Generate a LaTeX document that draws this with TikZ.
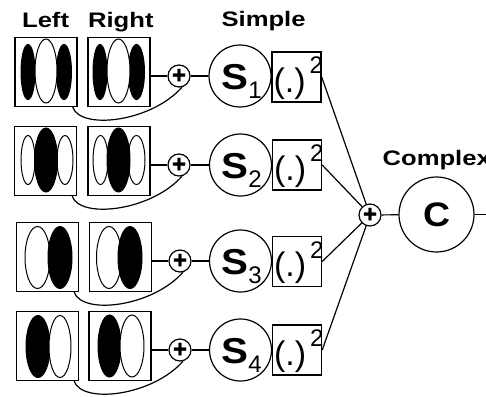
\documentclass[tikz,border=0pt]{standalone}
\usepackage{graphicx}
\usepackage{fontspec}
\setmainfont{Liberation Sans}
% wide bold heading text
\newcommand{\wide}[1]{\scalebox{1.22}[1]{#1}}
% simple-unit label S with a subscript index
\newcommand{\sunit}[1]{\scalebox{1.12}[1]{\fontsize{36}{36}\selectfont\bfseries S}\raisebox{-9.5pt}{\fontsize{24}{24}\selectfont #1}}
% squaring label
\newcommand{\sqtext}{{\fontsize{34}{34}\selectfont(.)}\kern4pt\raisebox{18.5pt}{\fontsize{24}{24}\selectfont 2}}
% heavy plus sign for summing junctions
\newcommand{\plussign}{\fontsize{24}{24}\selectfont\bfseries\addfontfeatures{FakeBold=1.2}+}
\begin{document}
\begin{tikzpicture}[x=1pt,y=-1pt,line width=1.2pt,
  img/.style={draw, rectangle, line width=1.4pt, minimum width=62pt, minimum height=69pt, inner sep=0pt},
  sumnode/.style={draw, circle, minimum size=22pt, inner sep=0pt},
  unit/.style={draw, circle, minimum size=62pt, inner sep=0pt},
  cunit/.style={draw, circle, minimum size=75pt, inner sep=0pt},
  sqbox/.style={draw, rectangle, line width=1.4pt, minimum width=49pt, minimum height=50pt, inner sep=0pt},
  blk/.style={draw=black, fill=black, line width=1pt},
  wht/.style={draw=black, fill=white, line width=1pt},
  head/.style={anchor=base west, inner sep=0pt, font=\fontsize{21}{21}\selectfont\bfseries},
  lbl/.style={anchor=base west, inner sep=0pt},
  wire/.style={line width=1.2pt}]

\fill[white] (0,0) rectangle (486,396);
\useasboundingbox (0,0) rectangle (486,396);

% headings
\node[head] (hleft) at (21.5,28) {\wide{Left}};
\node[head] (hright) at (87.5,28) {\wide{Right}};
\node[head] (hsimple) at (221,27) {\wide{Simple}};
\node[head] (hcomplex) at (382,165) {\wide{Complex}};

% ---------- receptive fields ----------
% row 1: black-white-black
\node[img] (L1) at (46,72) {};
\node[img] (R1) at (119,72) {};
\draw[blk] (28,72) ellipse [x radius=7pt, y radius=27.5pt];
\draw[blk] (64,72) ellipse [x radius=7.5pt, y radius=27.5pt];
\draw[wht] (46,71) ellipse [x radius=11pt, y radius=32pt];
\draw[blk] (100,72) ellipse [x radius=7pt, y radius=27.5pt];
\draw[blk] (136.5,72) ellipse [x radius=8pt, y radius=27.5pt];
\draw[wht] (118.5,71) ellipse [x radius=11.5pt, y radius=32pt];

% row 2: white-black-white
\node[img] (L2) at (45.5,161) {};
\node[img] (R2) at (119,161) {};
\draw[wht] (28,160) ellipse [x radius=7pt, y radius=24.5pt];
\draw[wht] (65,160) ellipse [x radius=8pt, y radius=24.5pt];
\draw[blk] (46,160) ellipse [x radius=11.5pt, y radius=32pt];
\draw[wht] (100.5,160) ellipse [x radius=7.5pt, y radius=24.5pt];
\draw[wht] (136.5,160) ellipse [x radius=8.5pt, y radius=24.5pt];
\draw[blk] (118.5,160) ellipse [x radius=11.5pt, y radius=32pt];

% row 3: white-black
\node[img] (L3) at (47.5,257) {};
\node[img] (R3) at (120.5,257) {};
\draw[wht] (37.5,257.5) ellipse [x radius=12.5pt, y radius=31pt];
\draw[blk] (60,257.5) ellipse [x radius=12pt, y radius=31pt];
\draw[wht] (109,257.5) ellipse [x radius=12.5pt, y radius=31pt];
\draw[blk] (130,257.5) ellipse [x radius=12pt, y radius=31pt];

% row 4: black-white
\node[img] (L4) at (47.5,346) {};
\node[img] (R4) at (120,346) {};
\draw[blk] (38,346.5) ellipse [x radius=12pt, y radius=31pt];
\draw[wht] (60,346.5) ellipse [x radius=11pt, y radius=31pt];
\draw[blk] (109.5,346) ellipse [x radius=11.5pt, y radius=31pt];
\draw[wht] (132,346) ellipse [x radius=12pt, y radius=31pt];

% ---------- summing junctions, simple units, squaring ----------
\node[sumnode] (P1) at (179,76) {\plussign};
\node[sumnode] (P2) at (179,165) {\plussign};
\node[sumnode] (P3) at (180,261) {\plussign};
\node[sumnode] (P4) at (180,350) {\plussign};

\node[unit] (S1) at (240,76) {};
\node[unit] (S2) at (240.5,165) {};
\node[unit] (S3) at (240.5,261) {};
\node[unit] (S4) at (240.5,350) {};
\node[lbl] (s1t) at (221,89) {\sunit{1}};
\node[lbl] (s2t) at (221,178) {\sunit{2}};
\node[lbl] (s3t) at (221,274) {\sunit{3}};
\node[lbl] (s4t) at (221,363) {\sunit{4}};

\node[sqbox] (Q1) at (296.5,77) {};
\node[sqbox] (Q2) at (297,165) {};
\node[sqbox] (Q3) at (297,261.5) {};
\node[sqbox] (Q4) at (297,350) {};
\node[lbl] (q1t) at (273,92) {\sqtext};
\node[lbl] (q2t) at (273.5,180) {\sqtext};
\node[lbl] (q3t) at (273.5,276.5) {\sqtext};
\node[lbl] (q4t) at (273.5,365) {\sqtext};

% ---------- complex unit ----------
\node[sumnode] (BP) at (370,215) {\plussign};
\node[cunit, font=\fontsize{34}{34}\selectfont\bfseries] (C) at (436.5,214.5) {\scalebox{1.1}[1]{C}};
\coordinate (cend) at (486,214.5);

% ---------- connectors ----------
\foreach \i in {1,...,4}{
  \draw[wire] (P\i.west -| R\i.east) -- (P\i);
  \draw[wire] (P\i) -- (S\i);
  \draw[wire] ([xshift=-5pt]L\i.south east) .. controls +(8,23) and +(-31,35) .. (P\i.-75);
  \draw[wire] (Q\i.east) -- (BP);
}
\draw[wire] (BP) -- (C);
\draw[wire] (C) -- (cend);
\end{tikzpicture}
\end{document}
